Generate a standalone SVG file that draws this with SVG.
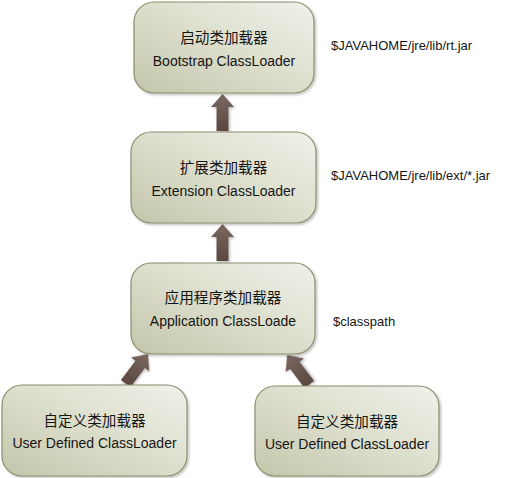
<svg xmlns="http://www.w3.org/2000/svg" width="513" height="478" viewBox="0 0 513 478">
<style>
.box{fill:url(#bg);stroke:#8c8e6c;stroke-width:1.2;filter:url(#sh)}
.t{font-family:"Liberation Sans","Noto Sans CJK SC",sans-serif;font-size:14px;fill:#151515;text-anchor:middle}
.c{font-size:14.6px}
.a{font-family:"Liberation Sans","Noto Sans CJK SC",sans-serif;font-size:13px;fill:#151515}
.arr{fill:url(#ag);filter:url(#sh)}
</style>
<defs>
<linearGradient id="bg" x1="1" y1="0" x2="0" y2="1">
<stop offset="0" stop-color="#f0f1ea"/>
<stop offset="0.5" stop-color="#dcdecc"/>
<stop offset="1" stop-color="#c3c5aa"/>
</linearGradient>
<linearGradient id="ag" x1="0" y1="0" x2="0" y2="1">
<stop offset="0" stop-color="#7a6860"/>
<stop offset="1" stop-color="#5a4840"/>
</linearGradient>
<filter id="sh" x="-10%" y="-10%" width="125%" height="125%">
<feDropShadow dx="1.5" dy="1.5" stdDeviation="1.2" flood-color="#000" flood-opacity="0.25"/>
</filter>
<polygon id="arrowShape" points="0,0 11.5,13 6,13 6,37 -6,37 -6,13 -11.5,13"/>
</defs>
<g id="connectors">
<use href="#arrowShape" class="arr" transform="translate(222.5,94)"/>
<use href="#arrowShape" class="arr" transform="translate(222.5,224)"/>
<use href="#arrowShape" class="arr" transform="translate(148,354) rotate(37)"/>
<use href="#arrowShape" class="arr" transform="translate(287,355) rotate(-37)"/>
</g>
<g id="bootstrap">
<rect class="box" x="134" y="2" width="180" height="91" rx="20"/>
<text class="t c" x="224" y="43">启动类加载器</text>
<text class="t" x="224" y="66">Bootstrap ClassLoader</text>
</g>
<g id="extension">
<rect class="box" x="131" y="132" width="185" height="91" rx="20"/>
<text class="t c" x="223.5" y="173">扩展类加载器</text>
<text class="t" x="223.5" y="196">Extension ClassLoader</text>
</g>
<g id="application">
<rect class="box" x="131" y="263" width="184" height="91" rx="20"/>
<text class="t c" x="223" y="303">应用程序类加载器</text>
<text class="t" x="223" y="326">Application ClassLoade</text>
</g>
<g id="user1">
<rect class="box" x="2" y="385" width="185" height="91" rx="20"/>
<text class="t c" x="94.5" y="426">自定义类加载器</text>
<text class="t" x="94.5" y="448">User Defined ClassLoader</text>
</g>
<g id="user2">
<rect class="box" x="255" y="386" width="184" height="90" rx="20"/>
<text class="t c" x="347" y="427">自定义类加载器</text>
<text class="t" x="347" y="449">User Defined ClassLoader</text>
</g>
<g id="annotations">
<text class="a" x="331" y="50">$JAVAHOME/jre/lib/rt.jar</text>
<text class="a" x="331" y="180">$JAVAHOME/jre/lib/ext/*.jar</text>
<text class="a" x="333" y="326">$classpath</text>
</g>
</svg>
